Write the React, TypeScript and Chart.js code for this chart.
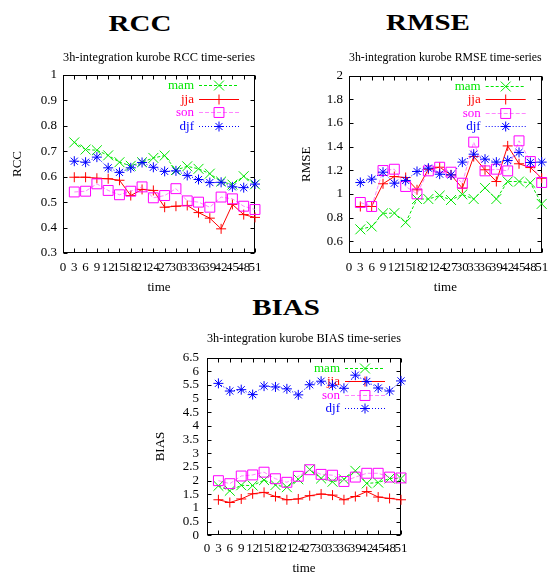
import { useEffect, useRef } from 'react';
import { Chart, registerables } from 'chart.js';
import { drawPoint } from 'chart.js/helpers';

Chart.register(...registerables);

const SERIF = '"Liberation Serif", "Times New Roman", serif';

// forecast times (hours) where scores are available, and the labelled ticks
const STEPS = [3, 6, 9, 12, 15, 18, 21, 24, 27, 30, 33, 36, 39, 42, 45, 48, 51];
const TIME_TICKS = [0, 3, 6, 9, 12, 15, 18, 21, 24, 27, 30, 33, 36, 39, 42, 45, 48, 51];

const SEASONS = ['mam', 'jja', 'son', 'djf'];

// RCC
const RCC_MAM = [0.735, 0.707, 0.704, 0.684, 0.657, 0.643, 0.657, 0.674, 0.683, 0.626, 0.641, 0.631, 0.612, 0.581, 0.569, 0.602, 0.570];
const RCC_JJA = [0.598, 0.598, 0.594, 0.592, 0.586, 0.526, 0.550, 0.546, 0.480, 0.484, 0.487, 0.459, 0.437, 0.395, 0.491, 0.451, 0.440];
const RCC_SON = [0.540, 0.543, 0.572, 0.546, 0.529, 0.543, 0.560, 0.517, 0.526, 0.553, 0.505, 0.500, 0.480, 0.520, 0.513, 0.484, 0.471];
const RCC_DJF = [0.661, 0.657, 0.677, 0.635, 0.617, 0.635, 0.656, 0.637, 0.621, 0.623, 0.605, 0.589, 0.577, 0.578, 0.560, 0.557, 0.571];
const RCC_TICKS = [0.3, 0.4, 0.5, 0.6, 0.7, 0.8, 0.9, 1];

// RMSE
const RMSE_MAM = [0.700, 0.724, 0.835, 0.837, 0.758, 0.956, 0.956, 0.985, 0.948, 0.995, 0.956, 1.050, 0.956, 1.104, 1.104, 1.093, 0.915];
const RMSE_JJA = [0.893, 0.893, 1.085, 1.146, 1.138, 1.034, 1.208, 1.225, 1.160, 1.048, 1.315, 1.203, 1.104, 1.405, 1.254, 1.222, 1.132];
const RMSE_SON = [0.927, 0.893, 1.197, 1.208, 1.062, 1.000, 1.194, 1.225, 1.183, 1.090, 1.437, 1.194, 1.208, 1.194, 1.448, 1.273, 1.096];
const RMSE_DJF = [1.096, 1.124, 1.183, 1.090, 1.113, 1.189, 1.217, 1.166, 1.160, 1.268, 1.335, 1.293, 1.268, 1.282, 1.350, 1.265, 1.268];
const RMSE_TICKS = [0.6, 0.8, 1, 1.2, 1.4, 1.6, 1.8, 2];

// BIAS
const BIAS_MAM = [1.81, 1.63, 1.83, 1.82, 2.02, 1.84, 1.76, 2.05, 2.41, 2.08, 1.96, 2.05, 2.36, 1.90, 1.93, 2.08, 2.08];
const BIAS_JJA = [1.30, 1.20, 1.33, 1.52, 1.57, 1.42, 1.30, 1.33, 1.45, 1.51, 1.47, 1.30, 1.42, 1.60, 1.40, 1.35, 1.30];
const BIAS_SON = [2.00, 1.89, 2.17, 2.21, 2.31, 2.07, 1.94, 2.16, 2.40, 2.23, 2.20, 1.97, 2.13, 2.27, 2.27, 2.13, 2.10];
const BIAS_DJF = [5.56, 5.28, 5.33, 5.15, 5.46, 5.43, 5.36, 5.14, 5.51, 5.64, 5.49, 5.38, 5.86, 5.63, 5.39, 5.28, 5.65];
const BIAS_TICKS = [0, 0.5, 1, 1.5, 2, 2.5, 3, 3.5, 4, 4.5, 5, 5.5, 6, 6.5];

// per-season drawing style (gnuplot-like line types)
const STYLES = [
  { color: '#00e600', line: '#00e600', dash: [3, 2], point: 'crossRot', radius: 7 },
  { color: '#ff0000', line: '#ff0000', dash: [] as number[], point: 'cross', radius: 5 },
  { color: '#ff00ff', line: 'rgba(255,80,255,0.7)', dash: [4, 2], point: 'rect', radius: 7 },
  { color: '#0000ff', line: '#0000ff', dash: [1, 2], point: 'star', radius: 5 },
];

type PanelSpec = {
  name: string;
  series: number[][];
  yTicks: number[];
  yMin: number;
  yMax: number;
  left: number;
  top: number;
  w: number;
  h: number;
  padRight: number;
  titleTop: number;
  titleBottom: number;
  yAxisW: number;
  yTickPad: number;
  yTitlePad: number;
  xAxisH: number;
  xTickPad: number;
  xTitlePad: number;
};

const PANELS: PanelSpec[] = [
  {
    name: 'RCC', series: [RCC_MAM, RCC_JJA, RCC_SON, RCC_DJF], yTicks: RCC_TICKS, yMin: 0.3, yMax: 1,
    left: 0, top: 40, w: 275, h: 260, padRight: 20, titleTop: 9.4, titleBottom: 10,
    yAxisW: 63, yTickPad: 6, yTitlePad: 10.2, xAxisH: 47, xTickPad: 6.8, xTitlePad: 4.2,
  },
  {
    name: 'RMSE', series: [RMSE_MAM, RMSE_JJA, RMSE_SON, RMSE_DJF], yTicks: RMSE_TICKS, yMin: 0.5, yMax: 2,
    left: 280, top: 40, w: 275, h: 260, padRight: 12, titleTop: 10.2, titleBottom: 9.7,
    yAxisW: 69, yTickPad: 6, yTitlePad: 19.2, xAxisH: 47, xTickPad: 6.8, xTitlePad: 4.2,
  },
  {
    name: 'BIAS', series: [BIAS_MAM, BIAS_JJA, BIAS_SON, BIAS_DJF], yTicks: BIAS_TICKS, yMin: 0, yMax: 6.5,
    left: 140, top: 320, w: 280, h: 253, padRight: 19, titleTop: 11.2, titleBottom: 10.9,
    yAxisW: 67, yTickPad: 8, yTitlePad: 13.2, xAxisH: 37.7, xTickPad: 5, xTitlePad: -3,
  },
];

const HEADINGS = [
  { text: 'RCC', cx: 140, baseline: 31 },
  { text: 'RMSE', cx: 427.5, baseline: 30.5 },
  { text: 'BIAS', cx: 286, baseline: 315 },
];

// border box with inward ticks on all four sides
const framePlugin = {
  id: 'gnuFrame',
  beforeDatasetsDraw(chart: any) {
    const { ctx, chartArea: a, scales } = chart;
    const L = Math.round(a.left) + 0.5;
    const R = Math.round(a.right) - 0.5;
    const T = Math.round(a.top) + 0.5;
    const B = Math.round(a.bottom) - 0.5;
    const len = 4;
    ctx.save();
    ctx.strokeStyle = '#000';
    ctx.lineWidth = 1;
    ctx.setLineDash([]);
    ctx.beginPath();
    for (const t of scales.x.ticks) {
      const px = Math.round(scales.x.getPixelForValue(t.value)) + 0.5;
      ctx.moveTo(px, B); ctx.lineTo(px, B - len);
      ctx.moveTo(px, T); ctx.lineTo(px, T + len);
    }
    for (const t of scales.y.ticks) {
      const py = Math.round(scales.y.getPixelForValue(t.value)) + 0.5;
      ctx.moveTo(L, py); ctx.lineTo(L + len, py);
      ctx.moveTo(R, py); ctx.lineTo(R - len, py);
    }
    ctx.stroke();
    ctx.strokeRect(L, T, R - L, B - T);
    ctx.restore();
  },
};

// key in the upper right corner: coloured label, line sample and marker
const keyPlugin = {
  id: 'gnuKey',
  beforeDatasetsDraw(chart: any) {
    const { ctx, chartArea: a } = chart;
    chart.data.datasets.forEach((ds: any, i: number) => {
      const y = Math.round(a.top + 10 + 13.5 * i) + 0.5;
      ctx.save();
      ctx.font = `13px ${SERIF}`;
      ctx.fillStyle = ds.pointBorderColor;
      ctx.textAlign = 'right';
      ctx.textBaseline = 'middle';
      ctx.fillText(ds.label, a.right - 61, y);
      ctx.strokeStyle = ds.borderColor;
      ctx.lineWidth = ds.borderWidth;
      ctx.setLineDash(ds.borderDash);
      ctx.beginPath();
      ctx.moveTo(a.right - 56, y);
      ctx.lineTo(a.right - 16, y);
      ctx.stroke();
      ctx.setLineDash([]);
      ctx.strokeStyle = ds.pointBorderColor;
      ctx.fillStyle = 'rgba(0,0,0,0)';
      ctx.lineWidth = 1;
      drawPoint(ctx, { pointStyle: ds.pointStyle, radius: ds.pointRadius, borderWidth: 1, rotation: 0 }, a.right - 36, y);
      ctx.restore();
    });
  },
};

function buildConfig(p: PanelSpec): any {
  const font = { family: SERIF, size: 13, weight: 'normal' as const, lineHeight: 1.2 };
  return {
    type: 'line',
    data: {
      datasets: SEASONS.map((label, i) => ({
        label,
        data: STEPS.map((x, k) => ({ x, y: p.series[i][k] })),
        borderColor: STYLES[i].line,
        borderWidth: 1,
        borderDash: STYLES[i].dash,
        pointStyle: STYLES[i].point,
        pointRadius: STYLES[i].radius,
        pointHoverRadius: STYLES[i].radius,
        pointBorderColor: STYLES[i].color,
        pointBackgroundColor: 'rgba(0,0,0,0)',
        pointBorderWidth: 1,
        tension: 0,
        fill: false,
        clip: false,
        order: 3 - i,
      })),
    },
    options: {
      responsive: false,
      animation: false,
      events: [],
      layout: { padding: { left: 0, right: p.padRight, top: 0, bottom: 0 } },
      plugins: {
        legend: { display: false },
        tooltip: { enabled: false },
        title: {
          display: true,
          text: `3h-integration kurobe ${p.name} time-series`,
          fullSize: false,
          color: '#000',
          font,
          padding: { top: p.titleTop, bottom: p.titleBottom },
        },
      },
      scales: {
        x: {
          type: 'linear',
          min: 0,
          max: 51,
          grid: { display: false, drawTicks: false },
          border: { display: false },
          afterBuildTicks: (s: any) => { s.ticks = TIME_TICKS.map((v) => ({ value: v })); },
          afterFit: (s: any) => { s.height = p.xAxisH; },
          ticks: {
            autoSkip: false, maxRotation: 0, minRotation: 0, padding: p.xTickPad,
            color: '#000', font, callback: (v: number) => String(v),
          },
          title: { display: true, text: 'time', color: '#000', font, padding: { top: 0, bottom: p.xTitlePad } },
        },
        y: {
          type: 'linear',
          min: p.yMin,
          max: p.yMax,
          grid: { display: false, drawTicks: false },
          border: { display: false },
          afterBuildTicks: (s: any) => { s.ticks = p.yTicks.map((v) => ({ value: v })); },
          afterFit: (s: any) => { s.width = p.yAxisW; },
          ticks: { autoSkip: false, padding: p.yTickPad, color: '#000', font, callback: (v: number) => String(v) },
          title: { display: true, text: p.name, color: '#000', font, padding: { top: p.yTitlePad, bottom: 0 } },
        },
      },
    },
    plugins: [framePlugin, keyPlugin],
  };
}

function Panel({ spec }: { spec: PanelSpec }) {
  const ref = useRef<HTMLCanvasElement>(null);
  useEffect(() => {
    const chart = new Chart(ref.current as HTMLCanvasElement, buildConfig(spec));
    return () => chart.destroy();
  }, [spec]);
  return (
    <canvas
      ref={ref}
      width={spec.w}
      height={spec.h}
      style={{ position: 'absolute', left: spec.left, top: spec.top, width: spec.w, height: spec.h }}
    />
  );
}

export default function App() {
  return (
    <div style={{ position: 'absolute', left: 0, top: 0, width: 555, height: 573, overflow: 'hidden', background: '#fff' }}>
      {HEADINGS.map((h) => (
        <div
          key={h.text}
          style={{
            position: 'absolute',
            left: h.cx - 100,
            width: 200,
            top: h.baseline - 19.3,
            fontFamily: SERIF,
            fontWeight: 'bold',
            fontSize: 23,
            lineHeight: '23px',
            textAlign: 'center',
            color: '#000',
            transform: 'scaleX(1.26)',
          }}
        >
          {h.text}
        </div>
      ))}
      {PANELS.map((p) => (
        <Panel key={p.name} spec={p} />
      ))}
    </div>
  );
}
